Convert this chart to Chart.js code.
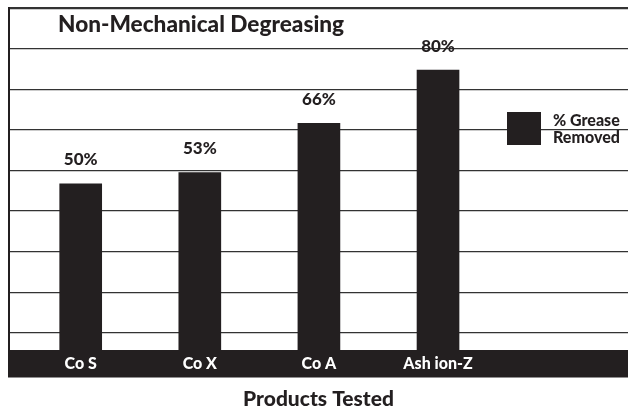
<!DOCTYPE html>
<html>
<head>
<meta charset="utf-8">
<script src="https://cdn.jsdelivr.net/npm/chart.js@4.4.1/dist/chart.umd.min.js"></script>
<style>
  html, body { margin: 0; padding: 0; background: #fff; }
  #wrap { width: 628px; height: 417px; position: relative; }
</style>
</head>
<body>
<div id="wrap"><canvas id="greaseChart"></canvas></div>
<script>
const categories = ['Co S', 'Co X', 'Co A', 'Ash ion-Z'];
const greaseRemoved = [50, 53, 66, 80];
const legendLines = ['% Grease', 'Removed'];
const chartTitle = 'Non-Mechanical Degreasing';
const axisTitle = 'Products Tested';

const ink = '#231f20';
const fontFamily = "Lato, 'Liberation Sans', Arial, sans-serif";

// black band along the bottom with the product names, value labels above bars
const barExtras = {
  id: 'barExtras',
  afterDatasetsDraw(chart) {
    const { ctx, chartArea } = chart;
    const xScale = chart.scales.x;
    ctx.save();
    ctx.fillStyle = ink;
    ctx.fillRect(chartArea.left - 1, chartArea.bottom - 23.5, chartArea.right - chartArea.left + 1, 27.5);

    ctx.fillStyle = '#ffffff';
    ctx.font = '900 16px ' + fontFamily;
    ctx.textAlign = 'center';
    ctx.textBaseline = 'middle';
    categories.forEach((name, i) => {
      ctx.fillText(name, xScale.getPixelForValue(i), chartArea.bottom - 9.5);
    });

    const meta = chart.getDatasetMeta(0);
    ctx.fillStyle = ink;
    ctx.font = '900 17px ' + fontFamily;
    meta.data.forEach((bar, i) => {
      ctx.fillText(greaseRemoved[i] + '%', bar.x, bar.y - 24);
    });
    ctx.restore();
  }
};

// title inside the plot and the legend on the right
const titleAndLegend = {
  id: 'titleAndLegend',
  afterDraw(chart) {
    const { ctx } = chart;
    ctx.save();
    ctx.fillStyle = ink;
    ctx.font = '900 22.6px ' + fontFamily;
    ctx.textAlign = 'left';
    ctx.textBaseline = 'alphabetic';
    ctx.fillText(chartTitle, 58, 32);

    ctx.fillStyle = chart.data.datasets[0].backgroundColor;
    ctx.fillRect(507, 112, 34, 33);
    ctx.fillStyle = ink;
    ctx.font = '900 16px ' + fontFamily;
    ctx.fillText(legendLines[0], 553, 126);
    ctx.fillText(legendLines[1], 553, 142.5);
    ctx.restore();
  }
};

new Chart(document.getElementById('greaseChart'), {
  type: 'bar',
  data: {
    datasets: [{
      label: legendLines.join(' '),
      data: greaseRemoved.map((v, i) => ({ x: i, y: v })),
      backgroundColor: ink,
      barThickness: 42
    }]
  },
  options: {
    responsive: true,
    maintainAspectRatio: false,
    animation: false,
    layout: { padding: { top: 8, left: 9, right: 0, bottom: 0 } },
    plugins: {
      legend: { display: false },
      tooltip: { enabled: false }
    },
    scales: {
      x: {
        type: 'linear',
        offset: false,
        min: -0.602,
        max: 4.595,
        grid: { display: false, drawTicks: false },
        border: { display: false },
        ticks: { display: false, stepSize: 1 },
        title: {
          display: true,
          text: axisTitle,
          color: ink,
          font: { family: fontFamily, weight: '900', size: 21 },
          padding: { top: 13, bottom: 5.3 }
        }
      },
      y: {
        min: 0,
        max: 96.4,
        ticks: { display: false, count: 10 },
        grid: {
          drawTicks: false,
          color: '#333333',
          lineWidth: (c) => (c.index === 9 ? 2.2 : 1.3)
        },
        border: { display: true, color: ink, width: 2 }
      }
    }
  },
  plugins: [barExtras, titleAndLegend]
});
</script>
</body>
</html>
